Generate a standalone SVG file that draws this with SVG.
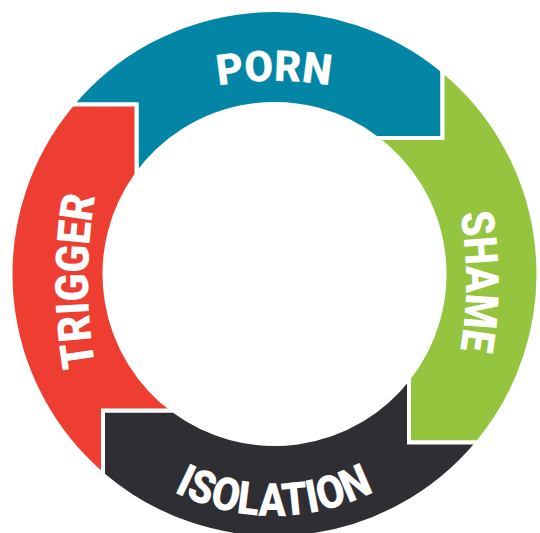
<svg xmlns="http://www.w3.org/2000/svg" width="540" height="533" viewBox="0 0 540 533">
  <style>
    .seg { stroke: #ffffff; stroke-width: 4; stroke-linejoin: miter; }
    .lbl { font-family: Roboto, "Liberation Sans", sans-serif; font-weight: 900; fill: #ffffff; }
  </style>
  <defs>
    <path id="arc-porn" d="M 61.9 158.2 A 330 330 0 0 1 486.1 158.2" fill="none"/>
    <path id="arc-shame" d="M 428.5 112.5 A 400 400 0 0 1 428.5 450.5" fill="none"/>
    <path id="arc-trigger" d="M 118.2 452 A 500 500 0 0 1 118.2 110" fill="none"/>
    <path id="arc-isolation" d="M 54 296 A 220 220 0 0 0 494 296" fill="none"/>
  </defs>
  <rect width="540" height="533" fill="#ffffff"/>
  <g id="node-porn">
    <path class="seg" fill="#0386a6" d="M 72.1 104.5 A 264 264 0 0 1 442.5 70.4 L 442.5 138 L 376.5 138 A 170 170 0 0 0 136.5 174.7 L 136.5 104.5 Z"/>
    <text class="lbl" font-size="43"><textPath href="#arc-porn" startOffset="50%" text-anchor="middle" textLength="112" lengthAdjust="spacingAndGlyphs">PORN</textPath></text>
  </g>
  <g id="node-shame">
    <path class="seg" fill="#95c43f" d="M 442.5 70.4 A 264 264 0 0 1 477.7 442.5 L 409 442.5 L 409 378 A 170 170 0 0 0 376.5 138 L 442.5 138 Z"/>
    <text class="lbl" font-size="46"><textPath href="#arc-shame" startOffset="50%" text-anchor="middle" textLength="137" lengthAdjust="spacingAndGlyphs">SHAME</textPath></text>
  </g>
  <g id="node-isolation">
    <path class="seg" fill="#2e2e33" d="M 477.7 442.5 A 264 264 0 0 1 103 474.7 L 103 410.5 L 173.2 410.5 A 170 170 0 0 0 409 378 L 409 442.5 Z"/>
    <text class="lbl" font-size="46"><textPath href="#arc-isolation" startOffset="50%" text-anchor="middle" textLength="208" lengthAdjust="spacingAndGlyphs">ISOLATION</textPath></text>
  </g>
  <g id="node-trigger">
    <path class="seg" fill="#ee3e32" d="M 103 474.7 A 264 264 0 0 1 72.1 104.5 L 136.5 104.5 L 136.5 174.7 A 170 170 0 0 0 173.2 410.5 L 103 410.5 Z"/>
    <text class="lbl" font-size="46"><textPath href="#arc-trigger" startOffset="50%" text-anchor="middle" textLength="171" lengthAdjust="spacingAndGlyphs">TRIGGER</textPath></text>
  </g>
  <g id="connectors"></g>
</svg>
